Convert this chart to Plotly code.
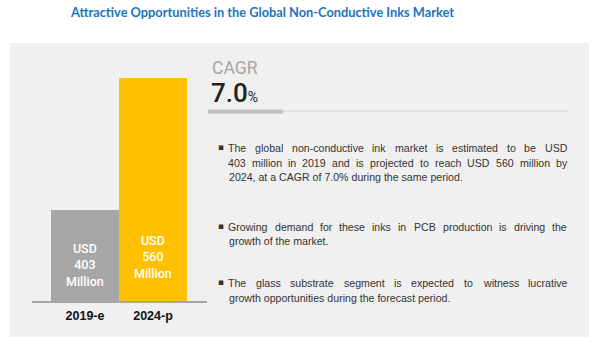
import plotly.graph_objects as go

W, H = 597, 350

categories = ["2019-e", "2024-p"]
values = [403, 560]
bar_labels = ["USD<br>403<br>Million", "USD<br>560<br>Million"]
bar_colors = ["#a6a6a6", "#ffc000"]

title = "Attractive Opportunities in the Global Non-Conductive Inks Market"
cagr_label = "CAGR"
cagr_value = "7.0"

# each line: (text, justified?)
bullets = [
    [("The global non-conductive ink market is estimated to be USD", True),
     ("403 million in 2019 and is projected to reach USD 560 million by", True),
     ("2024, at a CAGR of 7.0% during the same period.", False)],
    [("Growing demand for these inks in PCB production is driving the", True),
     ("growth of the market.", False)],
    [("The glass substrate segment is expected to witness lucrative", True),
     ("growth opportunities during the forecast period.", False)],
]


def px(x):
    return x / W


def py(y):
    return 1 - y / H


BODY = "Liberation Sans, Arial, sans-serif"
COND = "Roboto, sans-serif"
BODY_SIZE = 10.6

# Arial / Liberation Sans advance widths (per 1000 em) used for justification
_AW = {" ": 278, ".": 278, ",": 278, "-": 333, "%": 889,
       "a": 556, "b": 556, "c": 500, "d": 556, "e": 556, "f": 278, "g": 556, "h": 556,
       "i": 222, "j": 222, "k": 500, "l": 222, "m": 833, "n": 556, "o": 556, "p": 556,
       "q": 556, "r": 333, "s": 500, "t": 278, "u": 556, "v": 500, "w": 722, "x": 500,
       "y": 500, "z": 500, "A": 667, "B": 667, "C": 722, "D": 722, "E": 667, "G": 778,
       "P": 667, "R": 722, "S": 667, "T": 611, "U": 722}


def text_width(s, size):
    return sum(_AW.get(ch, 556) for ch in s) * size / 1000.0


fig = go.Figure()
fig.add_trace(go.Bar(
    x=categories, y=values, marker=dict(color=bar_colors, line=dict(width=0)),
    width=1.0, hoverinfo="skip", showlegend=False,
))

shapes = [
    dict(type="rect", xref="paper", yref="paper", x0=px(10), x1=px(589),
         y0=py(337), y1=py(43), fillcolor="#f0f0f0", line=dict(width=0), layer="below"),
    dict(type="line", xref="paper", yref="paper", x0=px(283), x1=px(568),
         y0=py(111), y1=py(111), line=dict(color="#d4d4d4", width=1)),
    dict(type="rect", xref="paper", yref="paper", x0=px(208), x1=px(283),
         y0=py(113.5), y1=py(109.5), fillcolor="#bfbfbf", line=dict(width=0)),
]

annotations = [
    dict(text="<b>" + title + "</b>", x=px(262), y=py(12), xref="paper", yref="paper",
         showarrow=False, xanchor="center", yanchor="middle",
         font=dict(family="Lato, Open Sans, sans-serif", size=12.8, color="#1b75bc")),
    dict(text=cagr_label, x=px(211), y=py(68), xref="paper", yref="paper",
         showarrow=False, xanchor="left", yanchor="middle", height=18, borderpad=0,
         font=dict(family=COND, size=17.5, color="#a6a6a6")),
    dict(text=cagr_value + "<span style='font-size:14px;font-weight:400'>%</span>",
         x=px(210), y=py(93),
         xref="paper", yref="paper", showarrow=False, xanchor="left", yanchor="middle",
         height=24, borderpad=0,
         font=dict(family=COND, size=26, color="#222222", weight=500)),
]

label_y = [265, 257]
for cat, lab, ly in zip(categories, bar_labels, label_y):
    annotations.append(dict(text=lab, x=cat, y=py(ly), xref="x", yref="paper",
                            showarrow=False, xanchor="center", yanchor="middle",
                            font=dict(family=COND, size=12.5, color="white", weight=500)))

TX0, TX1 = 228, 567
bullet_start = [148, 227, 283]
line_step = 14.5
for lines, y0 in zip(bullets, bullet_start):
    annotations.append(dict(text="\u25aa", x=px(221), y=py(y0 - 1), xref="paper", yref="paper",
                            showarrow=False, xanchor="center", yanchor="middle",
                            font=dict(family="DejaVu Sans", size=9, color="#333333")))
    for i, (ln, just) in enumerate(lines):
        yy = py(y0 + i * line_step)
        if not just:
            annotations.append(dict(text=ln, x=px(TX0), y=yy, xref="paper", yref="paper",
                                    showarrow=False, xanchor="left", yanchor="middle",
                                    borderpad=0,
                                    font=dict(family=BODY, size=BODY_SIZE, color="#333333")))
            continue
        words = ln.split(" ")
        widths = [text_width(w, BODY_SIZE) for w in words]
        gap = (TX1 - TX0 - sum(widths)) / (len(words) - 1)
        xcur = TX0
        for w, wd in zip(words, widths):
            annotations.append(dict(text=w, x=px(xcur), y=yy, xref="paper", yref="paper",
                                    showarrow=False, xanchor="left", yanchor="middle",
                                    borderpad=0, xshift=-1,
                                    font=dict(family=BODY, size=BODY_SIZE, color="#333333")))
            xcur += wd + gap

fig.update_layout(
    width=W, height=H, margin=dict(l=0, r=0, t=0, b=0),
    paper_bgcolor="white", plot_bgcolor="rgba(0,0,0,0)",
    bargap=0,
    shapes=shapes, annotations=annotations,
    xaxis=dict(domain=[px(32), px(207)], range=[-0.5 - 19 / 68, 1.5 + 20 / 68],
               showline=True, linecolor="#a6a6a6", linewidth=1.5, ticks="",
               showgrid=False, zeroline=False, fixedrange=True,
               tickfont=dict(family=BODY, size=12.5, color="#111111"),
               ticklabelstandoff=2),
    yaxis=dict(domain=[py(301), py(43)], range=[294.8, 294.8 + 258 / 0.8408],
               visible=False, fixedrange=True),
)
fig.update_xaxes(tickvals=categories, ticktext=["<b>%s</b>" % c for c in categories])

fig.write_html("out.html", config={"displayModeBar": False})
